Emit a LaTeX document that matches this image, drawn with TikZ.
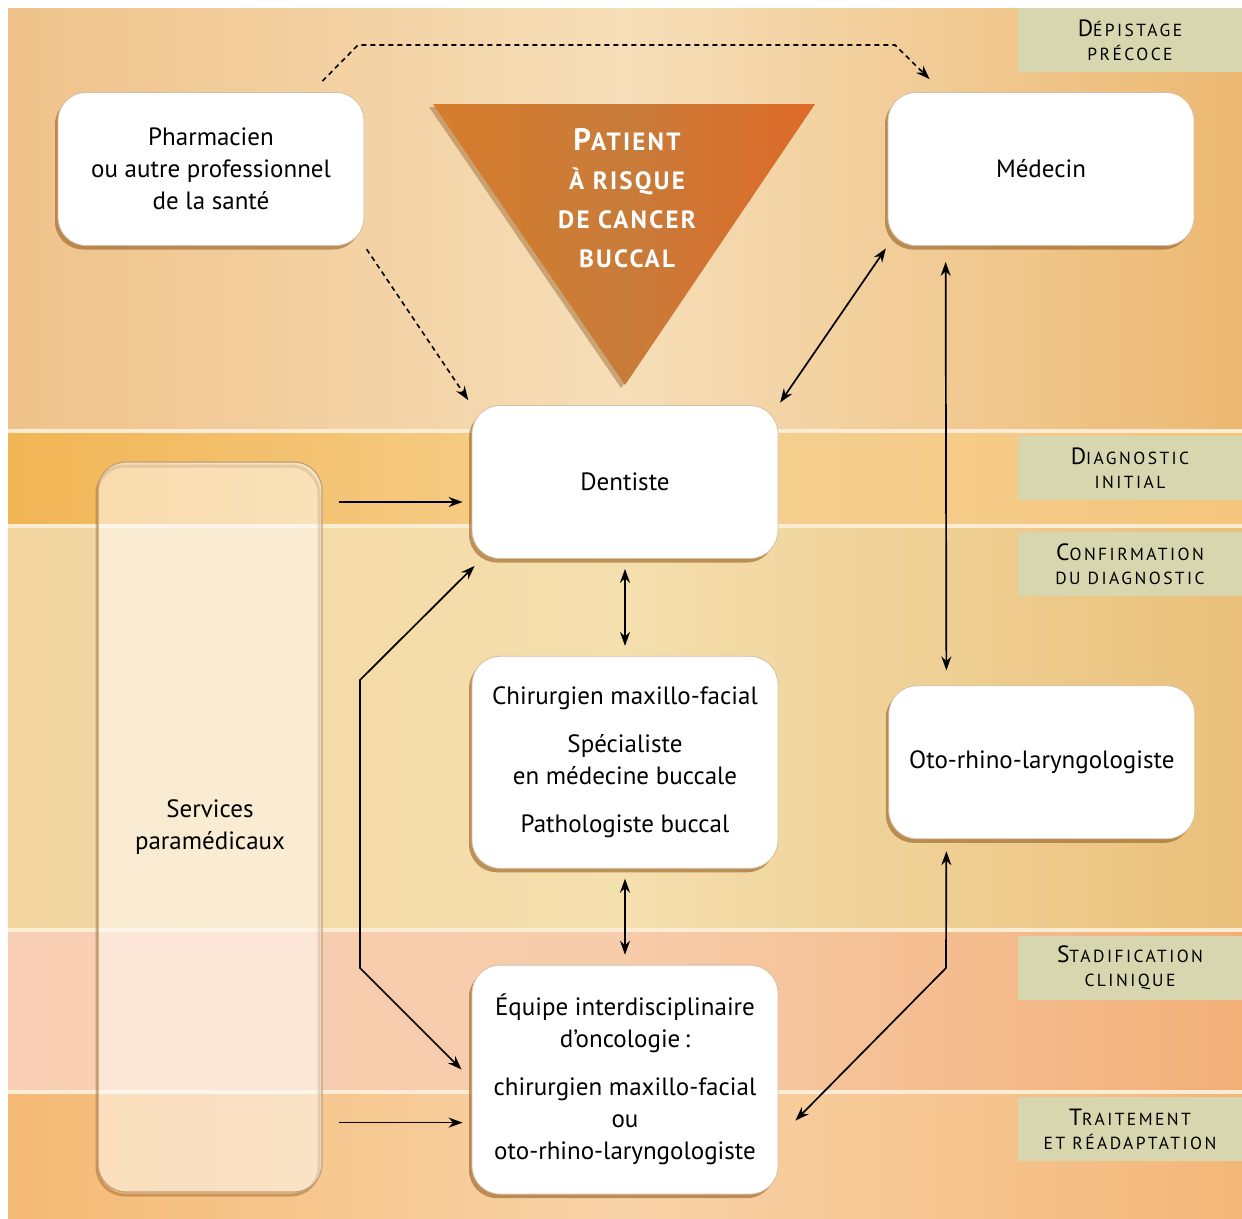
\documentclass[tikz,border=0pt]{standalone}
\usepackage{fontspec}
\setmainfont{PT Sans}
\newfontfamily\etiqfont[LetterSpace=14]{PT Sans}
\newfontfamily\titrefont[LetterSpace=9]{PT Sans}
\usetikzlibrary{positioning,arrows.meta,shadows}

\definecolor{fondEtiq}{RGB}{215,214,174}
\definecolor{ombreBoite}{RGB}{150,95,35}
\definecolor{trait}{RGB}{252,236,212}

% petites capitales simulees
\newcommand{\pcap}[2]{{\fontsize{23.5}{24}\selectfont #1}{\fontsize{17.5}{24}\selectfont #2}}
\newcommand{\tcap}[2]{{\fontsize{31}{39}\selectfont #1}{\fontsize{25}{39}\selectfont #2}}

\tikzset{
  etape/.style={fill=white, draw=ombreBoite!40, line width=0.8pt, rounded corners=28pt,
    minimum width=306pt, minimum height=153pt, align=center,
    font=\fontsize{25}{32}\selectfont,
    drop shadow={shadow xshift=-3pt, shadow yshift=-4pt, fill=ombreBoite, opacity=0.6}},
  services/.style={fill=white, fill opacity=0.5, text opacity=1, draw=ombreBoite!60, line width=1.2pt,
    rounded corners=28pt, minimum width=224pt, minimum height=730pt, align=center,
    font=\fontsize{25}{32}\selectfont},
  etiquette/.style={fill=fondEtiq, minimum width=224pt, minimum height=64pt, align=center,
    inner sep=0pt, font=\etiqfont\fontsize{17.5}{24}\selectfont},
  fleche/.style={-{Stealth[length=14pt,width=10pt]}, line width=1.7pt},
  double/.style={{Stealth[length=14pt,width=10pt]}-{Stealth[length=14pt,width=10pt]}, line width=1.7pt},
  tiret/.style={-{Stealth[length=14pt,width=10pt]}, line width=1.6pt, dash pattern=on 5pt off 4pt},
  separation/.style={draw=trait, line width=4pt}
}

\begin{document}
\begin{tikzpicture}[x=1pt,y=-1pt]
\pgfmathsetmacro{\Marge}{8}
\pgfmathsetmacro{\Droite}{1242}
\pgfmathsetmacro{\Bas}{1218}
\pgfmathsetmacro{\LimA}{431}
\pgfmathsetmacro{\LimB}{526}
\pgfmathsetmacro{\LimC}{930}
\pgfmathsetmacro{\LimD}{1092}
\useasboundingbox (0,0) rectangle (\Droite,\Bas);
% BANDES DE FOND
\shade[left color={rgb,255:red,239;green,194;blue,138}, right color={rgb,255:red,236;green,184;blue,114}, middle color={rgb,255:red,246;green,222;blue,184}] (\Marge,\Marge) rectangle (\Droite,\LimA);
\shade[left color={rgb,255:red,241;green,181;blue,84}, right color={rgb,255:red,244;green,197;blue,126}, middle color={rgb,255:red,246;green,210;blue,146}] (\Marge,\LimA) rectangle (\Droite,\LimB);
\shade[left color={rgb,255:red,243;green,214;blue,160}, right color={rgb,255:red,234;green,192;blue,122}, middle color={rgb,255:red,244;green,223;blue,174}] (\Marge,\LimB) rectangle (\Droite,\LimC);
\shade[left color={rgb,255:red,248;green,207;blue,180}, right color={rgb,255:red,242;green,176;blue,120}, middle color={rgb,255:red,247;green,204;blue,170}] (\Marge,\LimC) rectangle (\Droite,\LimD);
\shade[left color={rgb,255:red,244;green,186;blue,116}, right color={rgb,255:red,243;green,183;blue,120}, middle color={rgb,255:red,248;green,211;blue,168}] (\Marge,\LimD) rectangle (\Droite,\Bas);
\foreach \y in {\LimA,\LimB,\LimC,\LimD}
  \draw[separation] (\Marge,\y) -- (\Droite,\y);

% ETIQUETTES
\node[etiquette] (depistage) at (1130,40) {\pcap{D}{ÉPISTAGE}\\\pcap{}{PRÉCOCE}};
\node[etiquette] (diaginit) at (1130,468) {\pcap{D}{IAGNOSTIC}\\\pcap{}{INITIAL}};
\node[etiquette] (confirm) at (1130,564) {\pcap{C}{ONFIRMATION}\\\pcap{}{DU DIAGNOSTIC}};
\node[etiquette] (stadif) at (1130,968) {\pcap{S}{TADIFICATION}\\\pcap{}{CLINIQUE}};
\node[etiquette] (traitement) at (1130,1129) {\pcap{T}{RAITEMENT}\\\pcap{}{ET RÉADAPTATION}};

% TRIANGLE
\coordinate (triG) at (433,104);
\coordinate (triD) at (815,104);
\coordinate (triB) at (625,385);
\fill[ombreBoite, opacity=0.45] ([xshift=-4pt,yshift=-3pt]triG) -- ([xshift=-4pt,yshift=-3pt]triD) -- ([xshift=-4pt,yshift=-3pt]triB) -- cycle;
\shade[left color={rgb,255:red,214;green,124;blue,44}, right color={rgb,255:red,222;green,106;blue,40}, middle color={rgb,255:red,200;green,124;blue,58}] (triG) -- (triD) -- (triB) -- cycle;
\node[text=white, align=center, font=\titrefont\bfseries\fontsize{25}{39}\selectfont] (patient) at (627,198)
  {\tcap{P}{ATIENT}\\\tcap{}{À RISQUE}\\\tcap{}{DE CANCER}\\\tcap{}{BUCCAL}};

% BOITES
\node[etape] (pharm) at (211,169) {Pharmacien\\ou autre professionnel\\de la santé};
\node[etape] (medecin) at (1041,169) {Médecin};
\node[etape] (dentiste) at (625,482) {Dentiste};
\node[etape, minimum height=212pt, below=97pt of dentiste] (chir)
  {Chirurgien maxillo-facial\\[16pt]Spécialiste\\en médecine buccale\\[16pt]Pathologiste buccal};
\node[etape, right=110pt of chir] (oto) {Oto-rhino-laryngologiste};
\node[etape, minimum height=229pt, below=96pt of chir] (equipe)
  {Équipe interdisciplinaire\\d’oncologie\,:\\[16pt]chirurgien maxillo-facial\\ou\\oto-rhino-laryngologiste};
\draw[ombreBoite, opacity=0.45, line width=3pt, rounded corners=28pt] (97,466) rectangle (319,1195);
\node[services] (services) at (210,827) {Services\\paramédicaux};

% FLECHES
\coordinate (coudeG) at (358,45);
\coordinate (coudeD) at (895,45);
\draw[tiret] ([xshift=-42pt,yshift=11pt]pharm.north east) -- (coudeG) -- (coudeD) -- ([xshift=42pt,yshift=13pt]medecin.north west);
\draw[tiret, shorten <=4pt, shorten >=6pt] (pharm.south east) -- (dentiste.north west);
\draw[double, shorten <=3pt, shorten >=3pt] (medecin.south west) -- (dentiste.north east);
\draw[double, shorten <=16pt, shorten >=15pt] ([xshift=58pt]medecin.south west) -- ([xshift=58pt]oto.north west);
\coordinate (dentG) at ([yshift=-20pt]dentiste.west);
\coordinate (equipeG) at ([yshift=-43pt]equipe.west);
\draw[fleche, shorten <=16pt, shorten >=9pt] (services.east |- dentG) -- (dentG);
\draw[fleche, shorten <=16pt, shorten >=9pt] (services.east |- equipeG) -- (equipeG);
\draw[double, shorten <=10pt, shorten >=10pt] (dentiste.south) -- (chir.north);
\draw[double, shorten <=10pt, shorten >=10pt] (chir.south) -- (equipe.north);
\coordinate (coudeA) at (360,680);
\coordinate (coudeB) at (360,968);
\draw[double] ([xshift=3pt,yshift=-7pt]dentiste.south west) -- (coudeA) -- (coudeB) -- ([xshift=-10pt,yshift=10pt]equipe.west);
\coordinate (coudeC) at (946,968);
\draw[double, shorten <=12pt] ([xshift=58pt]oto.south west) -- (coudeC) -- ([xshift=17pt,yshift=-41pt]equipe.east);
\end{tikzpicture}
\end{document}
